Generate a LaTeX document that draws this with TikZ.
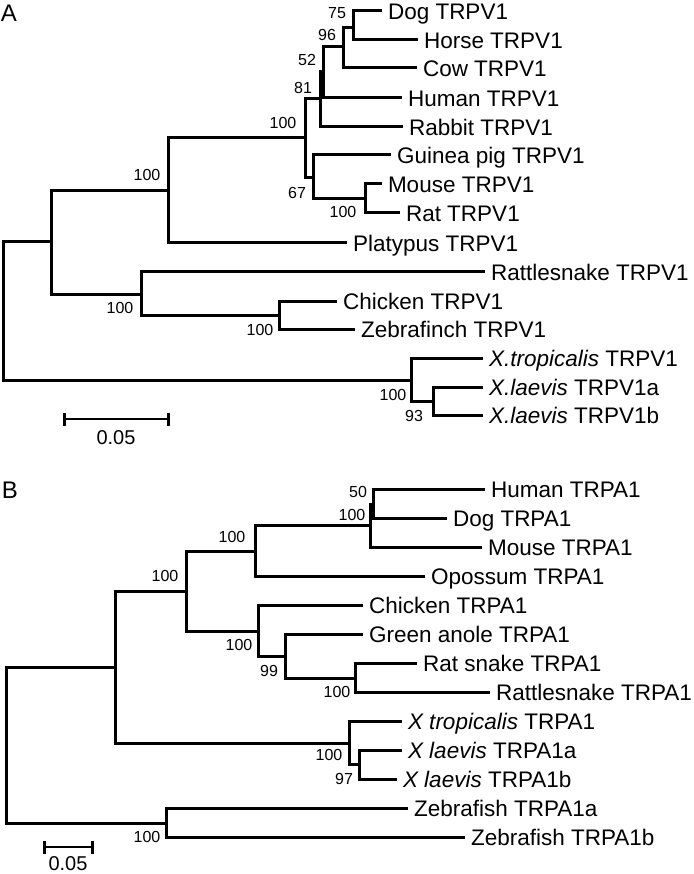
\documentclass[tikz,border=0pt]{standalone}
\usepackage{fontspec}
\setmainfont{Liberation Sans}
\usetikzlibrary{arrows.meta,positioning}

\begin{document}
\begin{tikzpicture}[x=1pt,y=-1pt,
    branch/.style={line width=3pt},
    leaf/.style={anchor=west,inner xsep=6pt,inner ysep=0pt,outer sep=0pt,
      text height=16.1pt,text depth=0pt,font=\fontsize{22.5}{27}\selectfont},
    boot/.style={inner sep=0pt,font=\fontsize{16}{19}\selectfont},
    panel/.style={inner sep=0pt,font=\fontsize{24}{29}\selectfont},
    scalebar/.style={line width=2.8pt,{Bar[width=13pt]}-{Bar[width=13pt]}},
    scalelbl/.style={inner sep=0pt,font=\fontsize{20}{24}\selectfont}]
  \useasboundingbox (0,0) rectangle (693,874);
  % panel A: TRPV1
  \node[panel] (pA) at (9,13) {A};
  \foreach \n/\x/\y in {aRoot/3/311, aIn/51/242, aMam/168/191, aEu/305/138,
      a81/320/99, a52/323/72, a96/343/47, a75/353/28, a67/313/178, aMR/365/199,
      aSau/141/294, aBird/279/315, aXen/411/380, aXl/433/401}
    \coordinate (\n) at (\x,\y);
  \foreach \n/\x/\y/\t in {dogA/382/11/Dog TRPV1, horseA/418/40/Horse TRPV1,
      cowA/417/68/Cow TRPV1, humanA/402/98/Human TRPV1, rabbitA/403/127/Rabbit TRPV1,
      guineaA/391/155/Guinea pig TRPV1, mouseA/382/184/Mouse TRPV1, ratA/400/213/Rat TRPV1,
      platyA/347/243/Platypus TRPV1, rattleA/485/272/Rattlesnake TRPV1,
      chickenA/337/301/Chicken TRPV1, finchA/355/329/Zebrafinch TRPV1,
      xtA/483/358/\textit{X.tropicalis} TRPV1, xlaA/483/387/\textit{X.laevis} TRPV1a,
      xlbA/483/415/\textit{X.laevis} TRPV1b}
    \node[leaf] (\n) at (\x,\y) {\t};
  \foreach \p/\c in {aRoot/aIn, aRoot/aXen, aIn/aMam, aIn/aSau, aMam/aEu, aMam/platyA,
      aEu/a81, aEu/a67, a81/a52, a81/rabbitA, a52/a96, a52/humanA, a96/a75, a96/cowA,
      a75/dogA, a75/horseA, a67/guineaA, a67/aMR, aMR/mouseA, aMR/ratA,
      aSau/rattleA, aSau/aBird, aBird/chickenA, aBird/finchA,
      aXen/xtA, aXen/aXl, aXl/xlaA, aXl/xlbA}
    \draw[branch] (\p) |- (\c);
  \foreach \n/\x/\y/\v in {bsA1/337/13/75, bsA2/327/35/96, bsA3/307/60/52, bsA4/303/88/81,
      bsA5/283/123/100, bsA6/147/175/100, bsA7/297/193/67, bsA8/343/212/100,
      bsA9/120/308/100, bsA10/260/330/100, bsA11/393/395/100, bsA12/414/416/93}
    \node[boot] (\n) at (\x,\y) {\v};
  \coordinate (sA1) at (63,419);
  \coordinate (sA2) at (170,419);
  \draw[scalebar] (sA1) -- (sA2);
  \node[scalelbl] (sAl) at (116,438) {0.05};
  % panel B: TRPA1
  \node[panel] (pB) at (10,490) {B};
  \foreach \n/\x/\y in {bRoot/6/745, bIn/115/667, bAm/186/591, bMam/255/551,
      bEu/370/525, b50/373.5/504, bRep/258/631, bSq/285/656, bSn/355/678,
      bXen/349/743, bXl/359/764, bZf/166/823}
    \coordinate (\n) at (\x,\y);
  \foreach \n/\x/\y/\t in {humanB/485/489/Human TRPA1, dogB/447/518/Dog TRPA1,
      mouseB/482/547/Mouse TRPA1, opossumB/425/576/Opossum TRPA1,
      chickenB/363/605/Chicken TRPA1, anoleB/363/634/Green anole TRPA1,
      ratsnB/417/663/Rat snake TRPA1, rattleB/490/692/Rattlesnake TRPA1,
      xtB/402/721/\textit{X tropicalis} TRPA1, xlaB/402/750/\textit{X laevis} TRPA1a,
      xlbB/397/779/\textit{X laevis} TRPA1b, zfaB/408/808/Zebrafish TRPA1a,
      zfbB/465/837/Zebrafish TRPA1b}
    \node[leaf] (\n) at (\x,\y) {\t};
  \foreach \p/\c in {bRoot/bIn, bRoot/bZf, bIn/bAm, bIn/bXen, bAm/bMam, bAm/bRep,
      bMam/bEu, bMam/opossumB, bEu/b50, bEu/mouseB, b50/humanB, b50/dogB,
      bRep/chickenB, bRep/bSq, bSq/anoleB, bSq/bSn, bSn/ratsnB, bSn/rattleB,
      bXen/xtB, bXen/bXl, bXl/xlaB, bXl/xlbB, bZf/zfaB, bZf/zfbB}
    \draw[branch] (\p) |- (\c);
  \foreach \n/\x/\y/\v in {bsB1/358/492/50, bsB2/352/515/100, bsB3/232/537/100,
      bsB4/165/576/100, bsB5/239/645/100, bsB6/269/671/99, bsB7/337/692/100,
      bsB8/329/755/100, bsB9/344/779/97, bsB10/147/837/100}
    \node[boot] (\n) at (\x,\y) {\v};
  \coordinate (sB1) at (43,847);
  \coordinate (sB2) at (94,847);
  \draw[scalebar] (sB1) -- (sB2);
  \node[scalelbl] (sBl) at (68,864) {0.05};
\end{tikzpicture}
\end{document}
